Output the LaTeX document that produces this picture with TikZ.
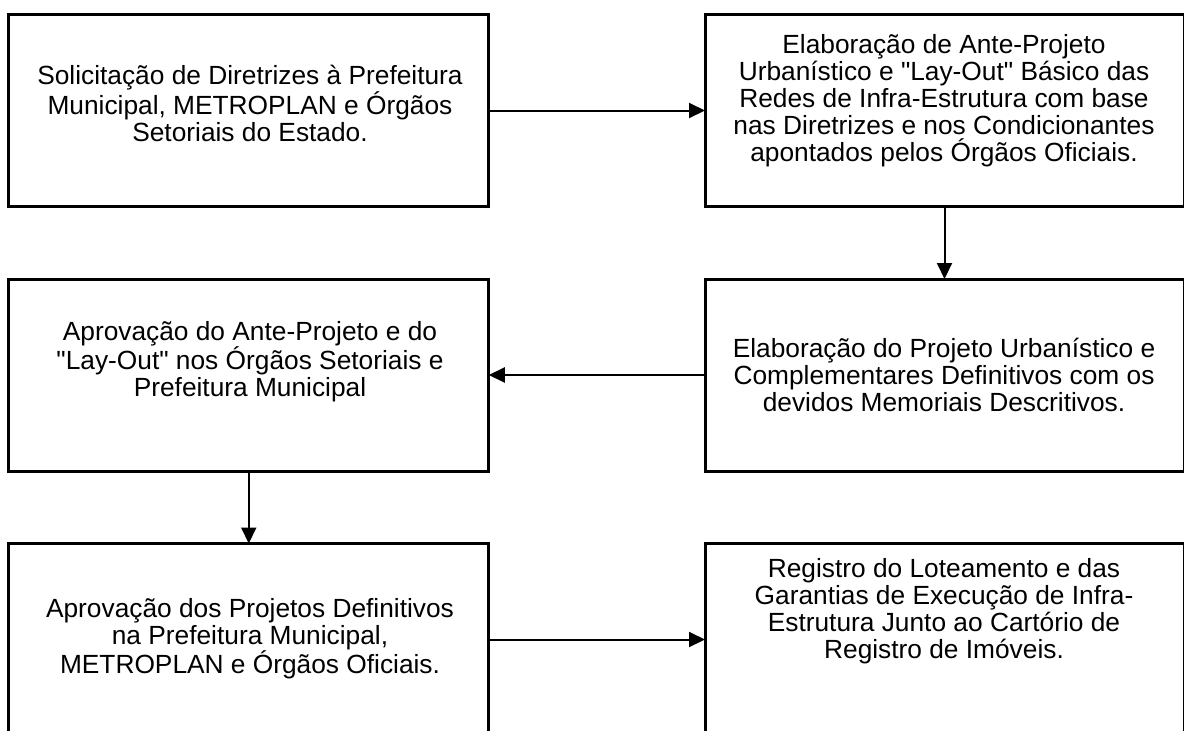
\documentclass[tikz,border=0pt]{standalone}
\usepackage{fontspec}
\newfontfamily\arialf{Liberation Sans}
\usetikzlibrary{arrows.meta}
\begin{document}
\begin{tikzpicture}[x=1pt,y=-1pt,
  boxL/.style={draw=black,line width=3pt,minimum width=480pt,minimum height=192pt,inner sep=0pt,outer sep=0pt},
  boxR/.style={draw=black,line width=3pt,minimum width=479pt,minimum height=192pt,inner sep=0pt,outer sep=0pt},
  txt/.style={align=center,font=\arialf\fontsize{26.3}{27}\selectfont,inner sep=0pt},
  conn/.style={line width=2pt,-{Triangle[length=16pt,width=15pt]}}]
\useasboundingbox (0,0) rectangle (1184,731);
\clip (0,0) rectangle (1184,731);
\node[boxL] (b1) at (248.75,110.5) {};
\node[boxR] (b2) at (944.5,110.5) {};
\node[boxL] (b3) at (248.75,375) {};
\node[boxR] (b4) at (944.5,375) {};
\node[boxL] (b5) at (248.75,639.5) {};
\node[boxR] (b6) at (944.5,639.5) {};
\node[txt] (t1) at (250,103.5) {Solicitação de Diretrizes à Prefeitura\\Municipal, METROPLAN e Órgãos\\Setoriais do Estado.};
\node[txt] (t2) at (944,101) {Elaboração de Ante-Projeto\\Urbanístico e "Lay-Out" Básico das\\Redes de Infra-Estrutura com base\\nas Diretrizes e nos Condicionantes\\apontados pelos Órgãos Oficiais.};
\node[txt] (t3) at (250,362) {Aprovação do Ante-Projeto e do\\"Lay-Out" nos Órgãos Setoriais e\\Prefeitura Municipal};
\node[txt] (t4) at (944,375) {Elaboração do Projeto Urbanístico e\\Complementares Definitivos com os\\devidos Memoriais Descritivos.};
\node[txt] (t5) at (250,639) {Aprovação dos Projetos Definitivos\\na Prefeitura Municipal,\\METROPLAN e Órgãos Oficiais.};
\node[txt] (t6) at (944,611) {Registro do Loteamento e das\\Garantias de Execução de Infra-\\Estrutura Junto ao Cartório de\\Registro de Imóveis.};
\draw[conn] (b1.east) -- (b2.west);
\draw[conn] (b2.south) -- (b4.north);
\draw[conn] (b4.west) -- (b3.east);
\draw[conn] (b3.south) -- (b5.north);
\draw[conn] (b5.east) -- (b6.west);
\end{tikzpicture}
\end{document}
